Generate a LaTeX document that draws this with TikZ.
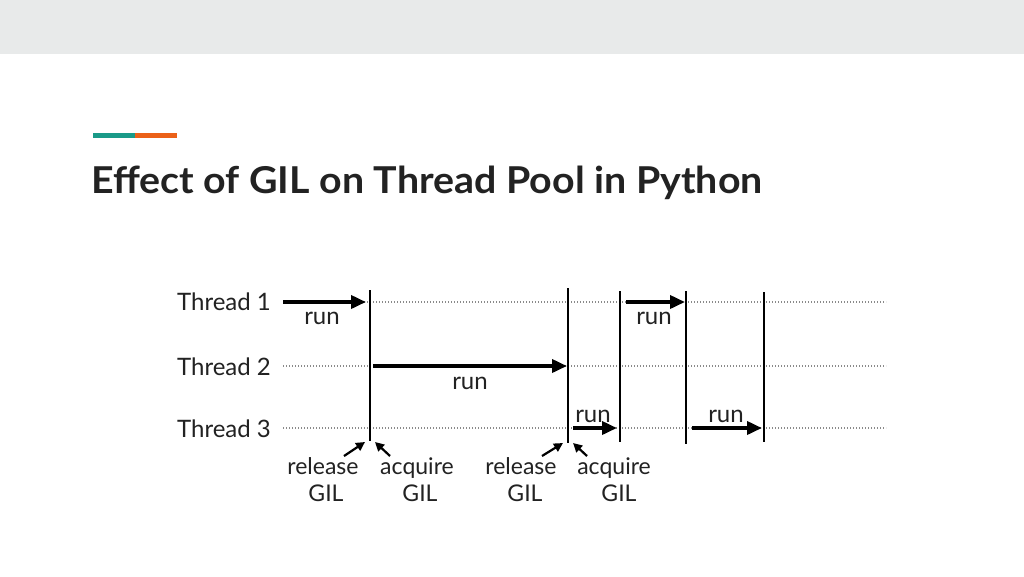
\documentclass[tikz,border=0pt]{standalone}
\usepackage{fontspec}
\setmainfont{Lato}
\usetikzlibrary{arrows.meta}
\definecolor{band}{HTML}{E8EAEA}
\definecolor{teal}{HTML}{1A9A88}
\definecolor{orng}{HTML}{EB6118}
\definecolor{ink}{HTML}{222222}
\definecolor{dotc}{HTML}{8A8A8A}
\tikzset{
  lbl/.style={font=\fontsize{24}{28}\selectfont, text=ink, inner sep=0pt},
  runlbl/.style={font=\fontsize{24}{28}\selectfont, text=ink, inner sep=0pt},
  gil/.style={font=\fontsize{23}{27}\selectfont, text=ink, inner sep=0pt, anchor=base},
  runarrow/.style={line width=3.6pt, -{Triangle[length=15pt,width=13pt]}, draw=black},
  bar/.style={line width=2.6pt, draw=black},
  dots/.style={draw=dotc, line width=1.1pt, dash pattern=on 1.1pt off 1.9pt},
  small/.style={line width=2.2pt, -{Triangle[length=9pt,width=9pt]}, draw=black},
}
\begin{document}
\begin{tikzpicture}[x=1pt,y=-1pt]
\useasboundingbox (0,0) rectangle (1024,576);
\fill[white] (0,0) rectangle (1024,576);
\fill[band] (0,0) rectangle (1024,54);
\fill[teal] (93,133) rectangle (135,137.5);
\fill[orng] (135,133) rectangle (177,137.5);
\node[anchor=base west, inner sep=0pt, text=ink, font=\fontsize{37}{40}\selectfont\bfseries, xscale=1.063] (title) at (91,193) {Effect of GIL on Thread Pool in Python};

% thread labels
\node[lbl, anchor=west] (t1) at (177,302) {Thread 1};
\node[lbl, anchor=west] (t2) at (177,366.5) {Thread 2};
\node[lbl, anchor=west] (t3) at (177,429) {Thread 3};

% lane coordinates
\coordinate (l1s) at (283,302); \coordinate (l1e) at (886,302);
\coordinate (l2s) at (283,366); \coordinate (l2e) at (886,366);
\coordinate (l3s) at (283,428); \coordinate (l3e) at (886,428);
\draw[dots] (l1s) -- (l1e);
\draw[dots] (l2s) -- (l2e);
\draw[dots] (l3s) -- (l3e);

% vertical bars
\coordinate (v1t) at (370,290); \coordinate (v1b) at (370,441);
\coordinate (v2t) at (568,288); \coordinate (v2b) at (568,443);
\coordinate (v3t) at (620,291); \coordinate (v3b) at (620,442);
\coordinate (v4t) at (686,291); \coordinate (v4b) at (686,444);
\coordinate (v5t) at (764,292); \coordinate (v5b) at (764,442);
\draw[bar] (v1t) -- (v1b);
\draw[bar] (v2t) -- (v2b);
\draw[bar] (v3t) -- (v3b);
\draw[bar] (v4t) -- (v4b);
\draw[bar] (v5t) -- (v5b);

% run arrows
\coordinate (a1s) at (283,302); \coordinate (a1e) at (366,302);
\coordinate (a2s) at (373,366); \coordinate (a2e) at (567,366);
\coordinate (a3s) at (573,428); \coordinate (a3e) at (617,428);
\coordinate (a4s) at (626,302); \coordinate (a4e) at (685,302);
\coordinate (a5s) at (692,428); \coordinate (a5e) at (762,428);
\draw[runarrow] (a1s) -- (a1e);
\draw[runarrow] (a2s) -- (a2e);
\draw[runarrow] (a3s) -- (a3e);
\draw[runarrow] (a4s) -- (a4e);
\draw[runarrow] (a5s) -- (a5e);
\node[runlbl] (r1) at (322,318) {run};
\node[runlbl] (r2) at (470,383) {run};
\node[runlbl] (r3) at (593,416) {run};
\node[runlbl] (r4) at (654,318) {run};
\node[runlbl] (r5) at (726,416) {run};

% GIL labels
\node[gil] (rel1) at (323,474) {release};
\node[gil] (rel1g) at (326,501) {GIL};
\node[gil] (acq1) at (417,474) {acquire};
\node[gil] (acq1g) at (420,501) {GIL};
\node[gil] (rel2) at (521,474) {release};
\node[gil] (rel2g) at (525,501) {GIL};
\node[gil] (acq2) at (614,474) {acquire};
\node[gil] (acq2g) at (619,501) {GIL};
\coordinate (p1) at (344,456); \coordinate (q1) at (365,442);
\coordinate (p2) at (390,456); \coordinate (q2) at (375,442);
\coordinate (p3) at (542,456); \coordinate (q3) at (563,443);
\coordinate (p4) at (587,456); \coordinate (q4) at (573,443);
\draw[small] (p1) -- (q1);
\draw[small] (p2) -- (q2);
\draw[small] (p3) -- (q3);
\draw[small] (p4) -- (q4);
\end{tikzpicture}
\end{document}
